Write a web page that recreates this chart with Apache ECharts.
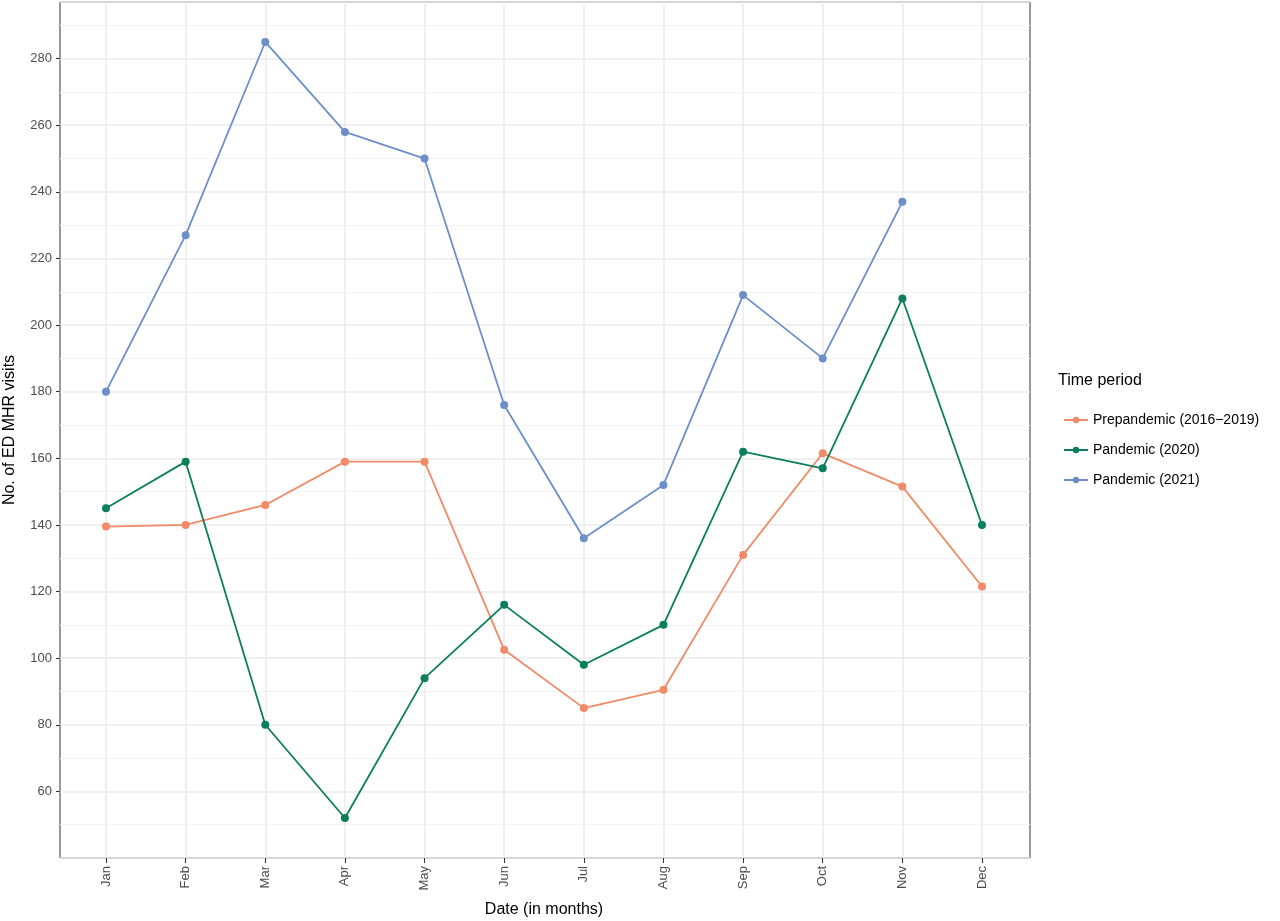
<!DOCTYPE html>
<html>
<head>
<meta charset="utf-8">
<script src="https://cdn.jsdelivr.net/npm/echarts@6/dist/echarts.min.js"></script>
<style>html,body{margin:0;padding:0;background:#fff}#chart{width:1280px;height:921px}</style>
</head>
<body>
<div id="chart"></div>
<script>
var months = ['Jan', 'Feb', 'Mar', 'Apr', 'May', 'Jun', 'Jul', 'Aug', 'Sep', 'Oct', 'Nov', 'Dec'];
var prepandemic = [139.5, 140, 146, 159, 159, 102.5, 85, 90.5, 131, 161.5, 151.5, 121.5];
var pandemic2020 = [145, 159, 80, 52, 94, 116, 98, 110, 162, 157, 208, 140];
var pandemic2021 = [180, 227, 285, 258, 250, 176, 136, 152, 209, 190, 237, null];
var seriesNames = ['Prepandemic (2016\u22122019)', 'Pandemic (2020)', 'Pandemic (2021)'];
var colors = ['#F08A67', '#0B7F5A', '#6C8FC9'];

var myChart = echarts.init(document.getElementById('chart'));
var font = 'Liberation Sans, Arial, sans-serif';
var yMin = 40, yMax = 297;

function mkSeries(name, data, color) {
    return {
        name: name, type: 'line', data: data, xAxisIndex: 1, yAxisIndex: 1,
        symbol: 'circle', symbolSize: 8, connectNulls: false,
        itemStyle: {color: color}, lineStyle: {color: color, width: 1.8}
    };
}

var option = {
    animation: false,
    grid: [
        {left: 60, right: 250, top: 2, bottom: 63, show: true, borderColor: '#333', borderWidth: 1,
         outerBoundsMode: 'none', containLabel: false},
        {left: 106, right: 298, top: 2, bottom: 63, outerBoundsMode: 'none', containLabel: false}
    ],
    xAxis: [
        {gridIndex: 0, type: 'value', min: 0, max: 1, show: false},
        {
            gridIndex: 1, type: 'category', data: months, boundaryGap: false,
            axisLine: {show: false},
            axisTick: {show: true, length: 5, lineStyle: {color: '#333'}},
            axisLabel: {rotate: 90, color: '#4d4d4d', fontSize: 13, fontFamily: font, margin: 8},
            splitLine: {show: true, lineStyle: {color: '#ebebeb', width: 1.5}},
            name: 'Date (in months)', nameLocation: 'middle', nameGap: 44,
            nameTextStyle: {fontSize: 16, color: '#000', fontFamily: font}
        }
    ],
    yAxis: [
        {
            gridIndex: 0, type: 'value', min: yMin, max: yMax, interval: 20,
            axisLine: {show: false},
            axisTick: {show: true, length: 4, lineStyle: {color: '#333'}},
            axisLabel: {color: '#4d4d4d', fontSize: 13, fontFamily: font, showMinLabel: false, showMaxLabel: false},
            splitLine: {show: true, lineStyle: {color: '#ebebeb', width: 1.5}},
            minorTick: {show: false, splitNumber: 2},
            minorSplitLine: {show: true, lineStyle: {color: '#f3f3f3', width: 1}},
            name: 'No. of ED MHR visits', nameLocation: 'middle', nameGap: 42, nameRotate: 90,
            nameTextStyle: {fontSize: 16, color: '#000', fontFamily: font}
        },
        {gridIndex: 1, type: 'value', min: yMin, max: yMax, show: false}
    ],
    legend: {
        orient: 'vertical', left: 1058, top: 408, itemGap: 16, itemWidth: 24, itemHeight: 8,
        data: seriesNames,
        textStyle: {fontSize: 14, color: '#000', fontFamily: font}
    },
    graphic: [{
        type: 'text', left: 1058, top: 373,
        style: {text: 'Time period', fontSize: 16, fill: '#000', fontFamily: font}
    }],
    series: [
        mkSeries(seriesNames[0], prepandemic, colors[0]),
        mkSeries(seriesNames[1], pandemic2020, colors[1]),
        mkSeries(seriesNames[2], pandemic2021, colors[2])
    ]
};
myChart.setOption(option);
</script>
</body>
</html>
